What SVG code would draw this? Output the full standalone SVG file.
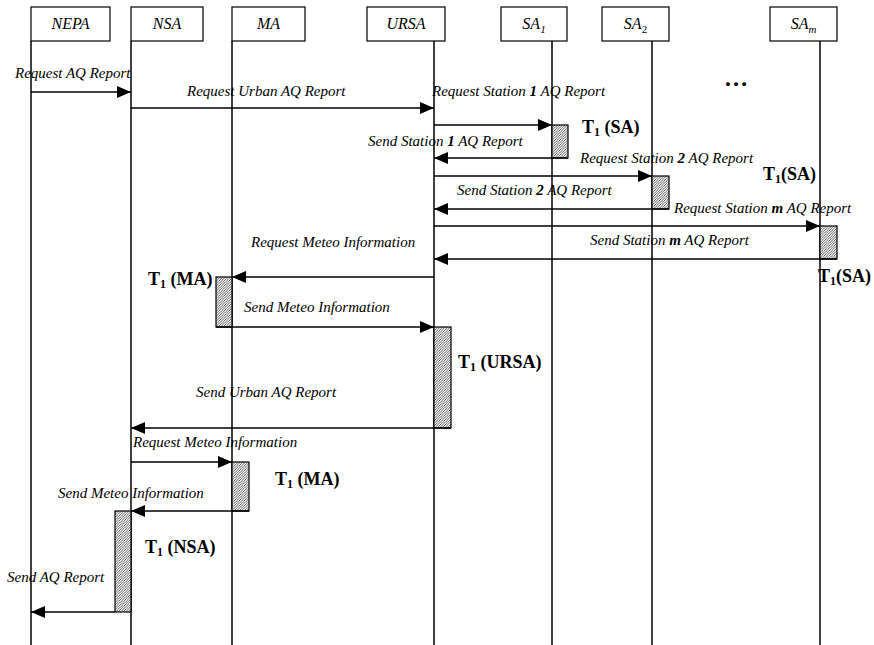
<svg xmlns="http://www.w3.org/2000/svg" width="874" height="645" viewBox="0 0 874 645">
<style>
text{font-family:"Liberation Serif","Times New Roman",serif;fill:#000}
.hdr{font-size:16px;font-style:italic;text-anchor:middle}
.lbl{font-size:15px;font-style:italic}
.t1{font-size:18px;font-weight:bold}
.box{fill:#fff;stroke:#000;stroke-width:1.2}
.life{stroke:#000;stroke-width:1.5}
.msg{stroke:#000;stroke-width:1.5;fill:none;marker-end:url(#ah)}
.act{fill:url(#hatch);stroke:#000;stroke-width:1.2}
</style>
<defs>
<marker id="ah" markerUnits="userSpaceOnUse" markerWidth="14" markerHeight="12" refX="14" refY="6" orient="auto"><path d="M0,0 L14,6 L0,12 z" fill="#000"/></marker>
<pattern id="hatch" patternUnits="userSpaceOnUse" width="2.5" height="2.5"><rect width="2.5" height="2.5" fill="#fff"/><path d="M-1,1 l2,-2 M0,2.5 l2.5,-2.5 M1.5,3.5 l2,-2" stroke="#333" stroke-width="0.8"/></pattern>
</defs>
<g id="lifelines">
<line class="life" x1="31" y1="41" x2="31" y2="645"/>
<line class="life" x1="131" y1="41" x2="131" y2="645"/>
<line class="life" x1="232" y1="41" x2="232" y2="645"/>
<line class="life" x1="434" y1="41" x2="434" y2="645"/>
<line class="life" x1="552" y1="41" x2="552" y2="645"/>
<line class="life" x1="652" y1="41" x2="652" y2="645"/>
<line class="life" x1="820" y1="41" x2="820" y2="645"/>
</g>
<g id="NEPA"><rect class="box" x="31" y="7" width="79" height="34"/><text class="hdr" x="70.5" y="29">NEPA</text></g>
<g id="NSA"><rect class="box" x="131" y="7" width="72" height="34"/><text class="hdr" x="167" y="29">NSA</text></g>
<g id="MA"><rect class="box" x="232" y="7" width="73" height="34"/><text class="hdr" x="268.5" y="29">MA</text></g>
<g id="URSA"><rect class="box" x="367" y="7" width="78" height="34"/><text class="hdr" x="406" y="29">URSA</text></g>
<g id="SA1"><rect class="box" x="501" y="7" width="66" height="34"/><text class="hdr" x="534" y="29">SA<tspan font-size="11" dy="4">1</tspan></text></g>
<g id="SA2"><rect class="box" x="602" y="7" width="67" height="34"/><text class="hdr" x="635.5" y="29">SA<tspan font-size="11" font-style="normal" dy="4">2</tspan></text></g>
<g id="SAm"><rect class="box" x="770" y="7" width="67" height="34"/><text class="hdr" x="803.5" y="29">SA<tspan font-size="11" dy="4">m</tspan></text></g>
<g id="activations">
<rect class="act" x="552" y="125" width="16" height="33"/>
<rect class="act" x="652" y="176" width="17" height="33"/>
<rect class="act" x="820" y="226" width="17" height="33"/>
<rect class="act" x="216" y="277" width="16" height="50"/>
<rect class="act" x="434" y="327" width="17" height="101"/>
<rect class="act" x="232" y="462" width="17" height="49"/>
<rect class="act" x="115" y="511" width="16" height="101"/>
</g>
<g id="connectors">
<line class="msg" x1="31" y1="92" x2="131" y2="92"/>
<line class="msg" x1="131" y1="108" x2="434" y2="108"/>
<line class="msg" x1="434" y1="125" x2="552" y2="125"/>
<line class="msg" x1="568" y1="158" x2="434" y2="158"/>
<line class="msg" x1="434" y1="176" x2="652" y2="176"/>
<line class="msg" x1="669" y1="209" x2="434" y2="209"/>
<line class="msg" x1="434" y1="226" x2="820" y2="226"/>
<line class="msg" x1="837" y1="259" x2="434" y2="259"/>
<line class="msg" x1="434" y1="277" x2="232" y2="277"/>
<line class="msg" x1="216" y1="327" x2="434" y2="327"/>
<line class="msg" x1="451" y1="428" x2="131" y2="428"/>
<line class="msg" x1="131" y1="462" x2="232" y2="462"/>
<line class="msg" x1="249" y1="511" x2="131" y2="511"/>
<line class="msg" x1="115" y1="612" x2="31" y2="612"/>
</g>
<g id="labels">
<text class="lbl" x="15" y="78">Request AQ Report</text>
<text class="lbl" x="187" y="96">Request Urban AQ Report</text>
<text class="lbl" x="432" y="96">Request Station <tspan font-weight="bold">1</tspan> AQ Report</text>
<text class="lbl" x="368" y="146">Send Station <tspan font-weight="bold">1</tspan> AQ Report</text>
<text class="lbl" x="580" y="163">Request Station <tspan font-weight="bold">2</tspan> AQ Report</text>
<text class="lbl" x="457" y="195">Send Station <tspan font-weight="bold">2</tspan> AQ Report</text>
<text class="lbl" x="674" y="213">Request Station <tspan font-weight="bold">m</tspan> AQ Report</text>
<text class="lbl" x="590" y="245">Send Station <tspan font-weight="bold">m</tspan> AQ Report</text>
<text class="lbl" x="251" y="247">Request Meteo Information</text>
<text class="lbl" x="244" y="312">Send Meteo Information</text>
<text class="lbl" x="196" y="397">Send Urban AQ Report</text>
<text class="lbl" x="133" y="447">Request Meteo Information</text>
<text class="lbl" x="58" y="498">Send Meteo Information</text>
<text class="lbl" x="7" y="582">Send AQ Report</text>
<text x="736" y="86" font-size="24" font-weight="bold" text-anchor="middle">…</text>
</g>
<g id="timers">
<text class="t1" x="582" y="133">T<tspan font-size="12" dy="3">1</tspan><tspan dy="-3">  (SA)</tspan></text>
<text class="t1" x="763" y="180">T<tspan font-size="12" dy="3">1</tspan><tspan dy="-3">(SA)</tspan></text>
<text class="t1" x="818" y="282">T<tspan font-size="12" dy="3">1</tspan><tspan dy="-3">(SA)</tspan></text>
<text class="t1" x="148" y="285">T<tspan font-size="12" dy="3">1</tspan><tspan dy="-3"> (MA)</tspan></text>
<text class="t1" x="458" y="368">T<tspan font-size="12" dy="3">1</tspan><tspan dy="-3"> (URSA)</tspan></text>
<text class="t1" x="275" y="485">T<tspan font-size="12" dy="3">1</tspan><tspan dy="-3"> (MA)</tspan></text>
<text class="t1" x="145" y="553">T<tspan font-size="12" dy="3">1</tspan><tspan dy="-3"> (NSA)</tspan></text>
</g>
</svg>
